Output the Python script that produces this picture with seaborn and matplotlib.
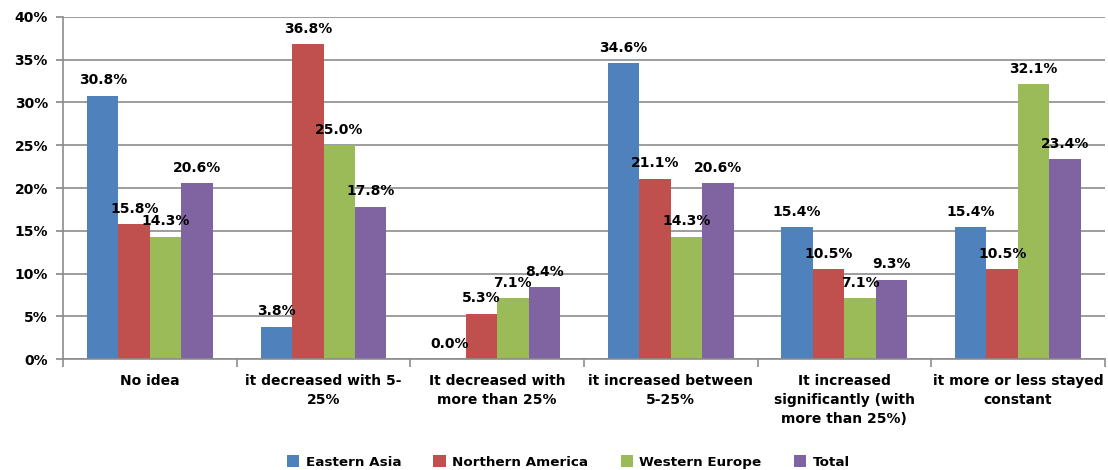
import pandas as pd
import matplotlib
matplotlib.use('Agg')
import matplotlib.pyplot as plt
import seaborn as sns
from matplotlib.ticker import PercentFormatter, FixedLocator

# Data
categories = [
    "No idea",
    "it decreased with 5-\n25%",
    "It decreased with\nmore than 25%",
    "it increased between\n5-25%",
    "It increased\nsignificantly (with\nmore than 25%)",
    "it more or less stayed\nconstant",
]
regions = ["Eastern Asia", "Northern America", "Western Europe", "Total"]
eastern_asia = [30.8, 3.8, 0.0, 34.6, 15.4, 15.4]
northern_america = [15.8, 36.8, 5.3, 21.1, 10.5, 10.5]
western_europe = [14.3, 25.0, 7.1, 14.3, 7.1, 32.1]
total = [20.6, 17.8, 8.4, 20.6, 9.3, 23.4]
colors = ["#4F81BD", "#C0504D", "#9BBB59", "#8064A2"]

sns.set_theme(style="white")
plt.rcParams['font.family'] = ['DejaVu Sans']
plt.rcParams['font.weight'] = 'bold'
plt.rcParams['text.color'] = 'black'
plt.rcParams['xtick.color'] = 'black'
plt.rcParams['ytick.color'] = 'black'

rows = []
for region, vals in zip(regions, [eastern_asia, northern_america, western_europe, total]):
    for cat, v in zip(categories, vals):
        rows.append({"Category": cat, "Region": region, "Value": v})
df = pd.DataFrame(rows)

fig = plt.figure(figsize=(11.08, 4.7), dpi=100)
ax = fig.add_axes([0.057, 0.236, 0.940, 0.728])

sns.barplot(data=df, x="Category", y="Value", hue="Region", order=categories,
            hue_order=regions, palette=colors, width=0.725, gap=0,
            saturation=1, linewidth=0, ax=ax, legend=True)

for cont in ax.containers:
    ax.bar_label(cont, fmt='%.1f%%', padding=6, fontsize=10, fontweight='bold', color='black')

ax.set_ylim(0, 40)
ax.set_xlim(-0.5, len(categories) - 0.5)
ax.yaxis.set_major_formatter(PercentFormatter(decimals=0))
ax.set_yticks(range(0, 41, 5))
ax.grid(axis='y', color='#8c8c8c', linewidth=1.2)
ax.set_axisbelow(True)
ax.set_xlabel("")
ax.set_ylabel("")

for s in ['top', 'right']:
    ax.spines[s].set_visible(False)
ax.spines['left'].set_color('#8c8c8c')
ax.spines['bottom'].set_color('#8c8c8c')
ax.spines['left'].set_linewidth(1.2)
ax.spines['bottom'].set_linewidth(1.2)

ax.tick_params(axis='y', left=True, length=5, color='#8c8c8c', labelcolor='black', labelsize=10, pad=6)
ax.tick_params(axis='x', which='major', bottom=False, labelcolor='black', labelsize=10, pad=5)
ax.xaxis.set_minor_locator(FixedLocator([i + 0.5 for i in range(-1, len(categories))]))
ax.tick_params(axis='x', which='minor', bottom=True, length=6, color='#8c8c8c', width=1.2)
for lbl in ax.get_yticklabels():
    lbl.set_fontweight('bold')
for lbl in ax.get_xticklabels():
    lbl.set_fontweight('bold')
    lbl.set_linespacing(1.45)

handles, labels = ax.get_legend_handles_labels()
ax.legend_.remove()
fig.legend(handles, labels, loc='center', bbox_to_anchor=(0.513, 0.017), ncol=4,
           frameon=False, handlelength=0.9, handleheight=0.9,
           columnspacing=2.4, handletextpad=0.5, prop={'weight': 'bold', 'size': 9.7})

fig.savefig("out.png", dpi=100)
